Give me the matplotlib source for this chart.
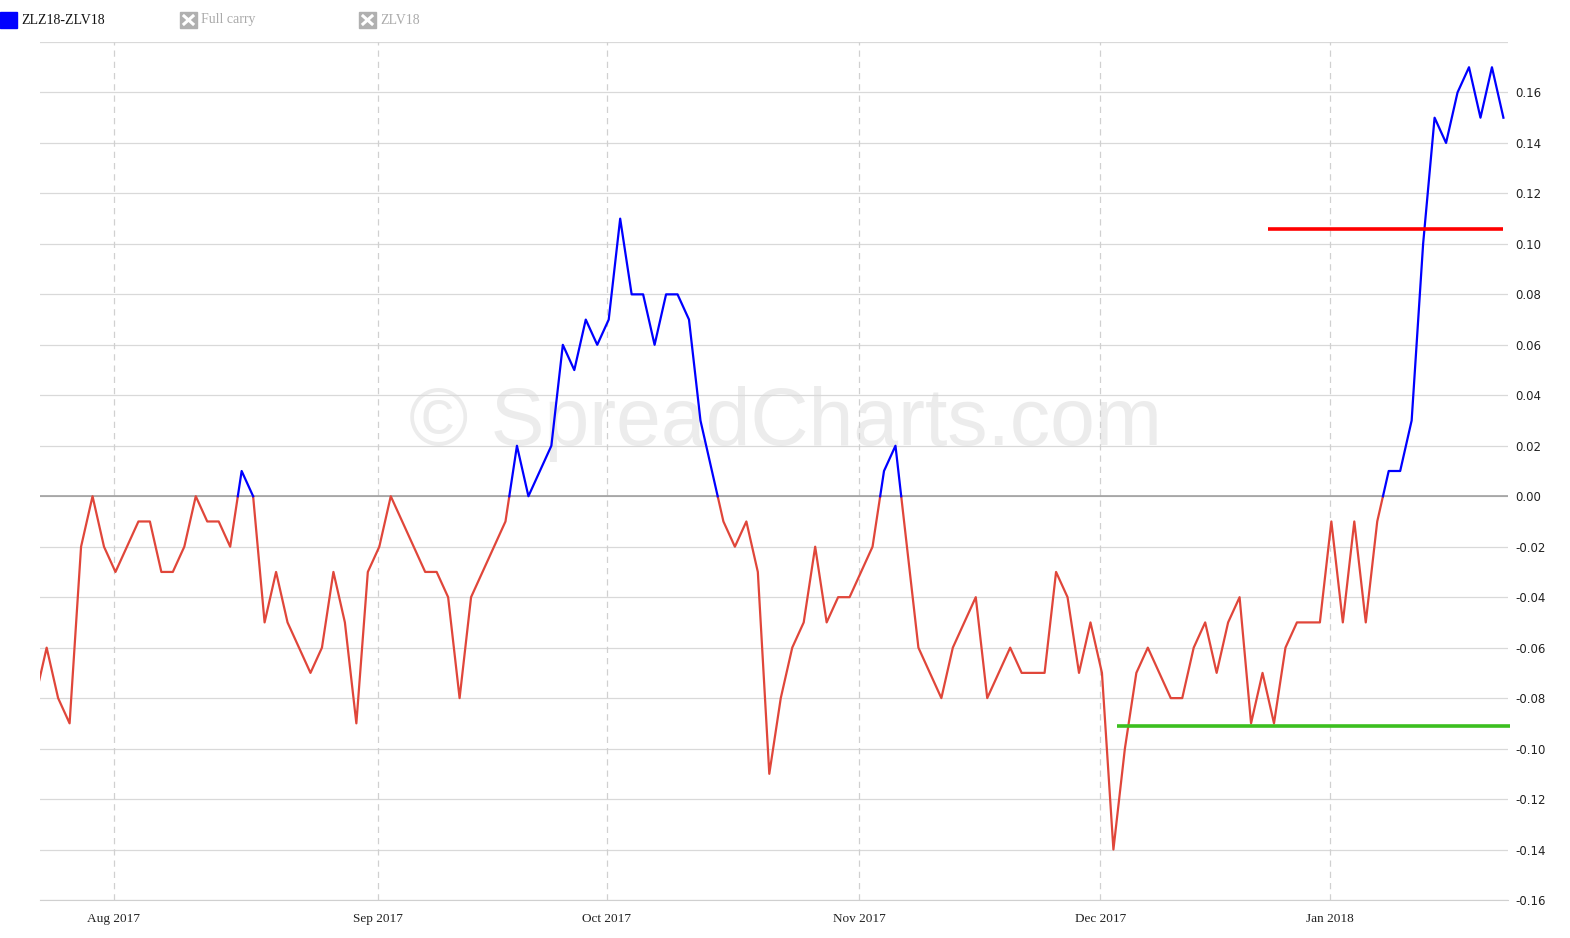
import numpy as np
import pandas as pd
import matplotlib
matplotlib.use("Agg")
import matplotlib.pyplot as plt
from matplotlib.patches import Rectangle
from matplotlib.lines import Line2D

plt.rcParams['axes.unicode_minus'] = False

# trading days shown on the chart (first one sits just left of the view)
feriados = ['2017-09-04', '2017-11-23', '2017-12-25', '2018-01-01', '2018-01-15']
datas = [d for d in pd.bdate_range('2017-07-21', '2018-01-24') if d.strftime('%Y-%m-%d') not in feriados]

spread = [
    -0.08, -0.06, -0.08, -0.09, -0.02, 0.00, -0.02, -0.03, -0.02, -0.01,
    -0.01, -0.03, -0.03, -0.02, 0.00, -0.01, -0.01, -0.02, 0.01, 0.00,
    -0.05, -0.03, -0.05, -0.06, -0.07, -0.06, -0.03, -0.05, -0.09, -0.03,
    -0.02, 0.00, -0.01, -0.02, -0.03, -0.03, -0.04, -0.08, -0.04, -0.03,
    -0.02, -0.01, 0.02, 0.00, 0.01, 0.02, 0.06, 0.05, 0.07, 0.06,
    0.07, 0.11, 0.08, 0.08, 0.06, 0.08, 0.08, 0.07, 0.03, 0.01,
    -0.01, -0.02, -0.01, -0.03, -0.11, -0.08, -0.06, -0.05, -0.02, -0.05,
    -0.04, -0.04, -0.03, -0.02, 0.01, 0.02, -0.02, -0.06, -0.07, -0.08,
    -0.06, -0.05, -0.04, -0.08, -0.07, -0.06, -0.07, -0.07, -0.07, -0.03,
    -0.04, -0.07, -0.05, -0.07, -0.14, -0.10, -0.07, -0.06, -0.07, -0.08,
    -0.08, -0.06, -0.05, -0.07, -0.05, -0.04, -0.09, -0.07, -0.09, -0.06,
    -0.05, -0.05, -0.05, -0.01, -0.05, -0.01, -0.05, -0.01, 0.01, 0.01,
    0.03, 0.10, 0.15, 0.14, 0.16, 0.17, 0.15, 0.17, 0.15,
]

meses = ['2017-08-01', '2017-09-01', '2017-10-01', '2017-11-01', '2017-12-01', '2018-01-01']
meses_labels = ['Aug 2017', 'Sep 2017', 'Oct 2017', 'Nov 2017', 'Dec 2017', 'Jan 2018']

nivel_alto = 0.106
nivel_alto_inicio = '2017-12-21'
nivel_baixo = -0.091
nivel_baixo_inicio = '2017-12-04'

y_ticks = np.round(np.arange(-0.16, 0.161, 0.02), 2)

# x is the trading day index, first visible day is 0
x = np.arange(len(spread)) - 1
datas_idx = pd.DatetimeIndex(datas)


def pos_data(s):
    # index of the first trading day on or after s
    return x[np.searchsorted(datas_idx, pd.Timestamp(s))]


def dividir_zero(x, y):
    xs, ys = [], []
    for i in range(len(y) - 1):
        xs.append(x[i])
        ys.append(y[i])
        if y[i] * y[i + 1] < 0:
            t = y[i] / (y[i] - y[i + 1])
            xs.append(x[i] + t)
            ys.append(0.0)
    xs.append(x[-1])
    ys.append(y[-1])
    return np.array(xs, float), np.array(ys, float)


fig = plt.figure(figsize=(15.7, 9.38), dpi=100)
ax = fig.add_axes([40 / 1570, 1 - 900 / 938, 1468 / 1570, 858 / 938])

ax.set_ylim(-0.16, 0.18)
ax.set_xlim(-0.58, 127.4)

for v in np.round(np.arange(-0.16, 0.181, 0.02), 2):
    ax.axhline(v, color='#d9d9d9', lw=0.9, zorder=1)
ax.axhline(0, color='#999999', lw=1.1, zorder=2)

pos_meses = [pos_data(m) - 0.15 for m in meses]
for p in pos_meses:
    ax.axvline(p, color='#d0d0d0', lw=0.9, ls=(0, (5, 4)), zorder=1)

ax.text(0.508, 0.555, '\u00a9 SpreadCharts.com', transform=ax.transAxes,
        ha='center', va='center', fontsize=58, color='#ececec',
        family='Liberation Sans', zorder=0)

xs, ys = dividir_zero(x, np.array(spread))
ax.plot(xs, np.where(ys <= 0, ys, np.nan), color='#e0463a', lw=1.6, zorder=3)
ax.plot(xs, np.where(ys >= 0, ys, np.nan), color='#0000ff', lw=1.6, zorder=4)

ax.plot([pos_data(nivel_alto_inicio) + 0.5, x[-1]], [nivel_alto, nivel_alto],
        color='#ff0000', lw=2.6, zorder=5, solid_capstyle='butt')
ax.plot([pos_data(nivel_baixo_inicio) + 0.3, 127.6], [nivel_baixo, nivel_baixo],
        color='#3cbf1f', lw=2.6, zorder=5, clip_on=False, solid_capstyle='butt')

for s in ['top', 'left', 'right']:
    ax.spines[s].set_visible(False)
ax.spines['bottom'].set_color('#d0d0d0')

ax.yaxis.tick_right()
ax.set_yticks(y_ticks)
ax.set_yticklabels(['%.2f' % (v + 0.0) if v != 0 else '0.00' for v in y_ticks],
                   fontsize=8.5, family='DejaVu Sans')
ax.tick_params(axis='y', length=0, pad=5, colors='#222222')

ax.set_xticks(pos_meses)
ax.set_xticklabels(meses_labels, fontsize=9.5, family='Liberation Serif')
ax.tick_params(axis='x', length=0, pad=9, colors='#222222')

# legend strip at the top
fig.patches.append(Rectangle((0, 1 - 28 / 938), 17 / 1570, 16 / 938,
                             transform=fig.transFigure, color='#0000ff'))
fig.text(21 / 1570, 1 - 20 / 938, 'ZLZ18-ZLV18', fontsize=10,
         family='Liberation Serif', va='center', color='#111111')
for x0, nome in [(180, 'Full carry'), (359, 'ZLV18')]:
    fig.patches.append(Rectangle((x0 / 1570, 1 - 28 / 938), 17 / 1570, 16 / 938,
                                 transform=fig.transFigure, color='#b0b0b0'))
    for a, b in [((x0 + 4, 24), (x0 + 13, 16)), ((x0 + 4, 16), (x0 + 13, 24))]:
        fig.lines.append(Line2D([a[0] / 1570, b[0] / 1570], [1 - a[1] / 938, 1 - b[1] / 938],
                                transform=fig.transFigure, color='white', lw=2.2))
    fig.text((x0 + 21) / 1570, 1 - 20 / 938, nome, fontsize=10,
             family='Liberation Serif', va='center', color='#aaaaaa')

fig.savefig('out.png', dpi=100, facecolor='white')
